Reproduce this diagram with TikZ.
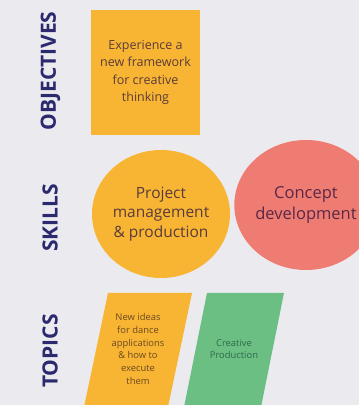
\documentclass[tikz,border=0pt]{standalone}
\usepackage{fontspec}
\setmainfont{Open Sans}
\usepackage{xcolor}
\usepackage{tikz}
\usetikzlibrary{shapes.geometric, positioning}

\definecolor{bgpaper}{HTML}{EBEBEF}
\definecolor{headink}{HTML}{2C2A6E}
\definecolor{sunyellow}{HTML}{F8B533}
\definecolor{coral}{HTML}{EF7C72}
\definecolor{sagegreen}{HTML}{6CBF83}
\definecolor{brownink}{HTML}{5A3B3B}
\definecolor{plumink}{HTML}{5A2846}
\definecolor{greenink}{HTML}{2D6A4A}
\definecolor{ochreink}{HTML}{6B4A22}

\begin{document}
\begin{tikzpicture}[
    x=1pt, y=1pt,
    heading/.style={rotate=90, text=headink, font=\fontsize{21}{24}\selectfont\bfseries},
    card/.style={rectangle, fill=sunyellow, minimum width=109pt, minimum height=125pt, align=center, text=brownink, font=\fontsize{12.5}{17.5}\selectfont},
    blob/.style={ellipse, align=center, inner sep=0pt},
    slab/.style={align=center, font=\fontsize{9.4}{12.7}\selectfont}
]
    % Background
    \fill[bgpaper] (0,0) rectangle (359,405);
    \useasboundingbox (0,0) rectangle (359,405);
    \clip (0,0) rectangle (359,405);

    % Headings
    \node[heading] (objectives) at (50.5,334) {OBJECTIVES};
    \node[heading] (skills) at (50,187) {SKILLS};
    \node[heading] (topics) at (50,54) {TOPICS};

    % Objectives
    \node[card] (framework) at (145.5,332.5) {Experience a\\new framework\\for creative\\thinking};

    % Skills
    \node[blob, fill=sunyellow, minimum width=138pt, minimum height=128pt, text=brownink,
          font=\fontsize{15.5}{19.5}\selectfont] (project) at (161,191) {Project\\management\\\& production};
    \node[blob, fill=coral, minimum width=140pt, minimum height=130pt, text=plumink,
          font=\fontsize{16.5}{21}\selectfont] (concept) at (306,200) {Concept\\development};

    % Topics
    \fill[sunyellow] (84,-2) -- (168,-2) -- (192,112) -- (108,112) -- cycle;
    \fill[sagegreen] (184,-2) -- (261,-2) -- (284,112) -- (207,112) -- cycle;
    \node[slab, text=ochreink] (dance) at (138,56) {New ideas\\for dance\\applications\\\& how to\\execute\\them};
    \node[slab, text=greenink] (creative) at (234,56) {Creative\\Production};
\end{tikzpicture}
\end{document}
